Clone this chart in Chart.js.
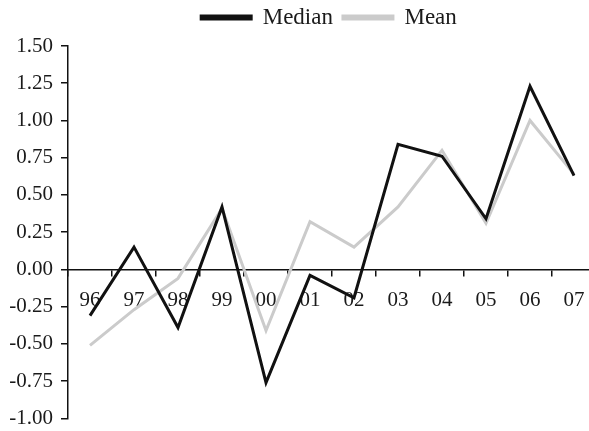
<!DOCTYPE html>
<html>
<head>
<meta charset="utf-8">
<script src="https://cdn.jsdelivr.net/npm/chart.js@4/dist/chart.umd.min.js"></script>
<style>
html,body{margin:0;padding:0;background:#fff;overflow:hidden;}
#wrap{width:640px;height:439px;}
</style>
</head>
<body>
<div id="wrap"><canvas id="c" width="640" height="439"></canvas></div>
<script>
const categories = ['96','97','98','99','00','01','02','03','04','05','06','07'];
const medianValues = [-0.31, 0.15, -0.39, 0.42, -0.76, -0.04, -0.19, 0.84, 0.76, 0.34, 1.23, 0.63];
const meanValues = [-0.51, -0.27, -0.06, 0.41, -0.41, 0.32, 0.15, 0.42, 0.80, 0.31, 1.00, 0.64];
const yMin = -1.0, yMax = 1.5, yStep = 0.25;

const FONT = 'Liberation Serif';

const legendShift = {
  id: 'legendShift',
  afterLayout(chart) {
    const lg = chart.legend;
    if (!lg) return;
    const dx = 27, dy = -7;
    lg.left += dx; lg.right += dx;
    lg.top += dy; lg.bottom += dy;
  }
};

new Chart(document.getElementById('c'), {
  type: 'line',
  data: {
    labels: categories,
    datasets: [
      {label: 'Median', data: medianValues, borderColor: '#111111', backgroundColor: '#111111', borderWidth: 3, pointRadius: 0, tension: 0},
      {label: 'Mean', data: meanValues, borderColor: '#cbcbcb', backgroundColor: '#cbcbcb', borderWidth: 3, pointRadius: 0, tension: 0}
    ]
  },
  plugins: [legendShift],
  options: {
    responsive: false,
    animation: false,
    devicePixelRatio: 1,
    layout: {padding: {left: 8, right: 44, top: 3, bottom: 0}},
    plugins: {
      tooltip: {enabled: false},
      legend: {
        position: 'top',
        labels: {
          font: {family: FONT, size: 23},
          color: '#1a1a1a',
          boxWidth: 50,
          boxHeight: 3,
          padding: 10
        }
      }
    },
    scales: {
      x: {
        type: 'category',
        position: {y: 0},
        offset: true,
        grid: {display: true, drawOnChartArea: false, drawTicks: true, tickLength: 6, offset: true, color: '#111', lineWidth: 1.5},
        border: {display: true, color: '#111', width: 1.5},
        ticks: {font: {family: FONT, size: 21}, color: '#1a1a1a', padding: 12, maxRotation: 0, autoSkip: false}
      },
      y: {
        min: yMin, max: yMax,
        afterFit: (s) => { s.width = 60; },
        grid: {display: true, drawOnChartArea: false, drawTicks: true, tickLength: 7, color: '#111', lineWidth: 1.5},
        border: {display: true, color: '#111', width: 1.5},
        ticks: {stepSize: yStep, font: {family: FONT, size: 21}, color: '#1a1a1a', padding: 8,
          callback: (v) => Number(v).toFixed(2)}
      }
    }
  }
});
</script>
</body>
</html>
